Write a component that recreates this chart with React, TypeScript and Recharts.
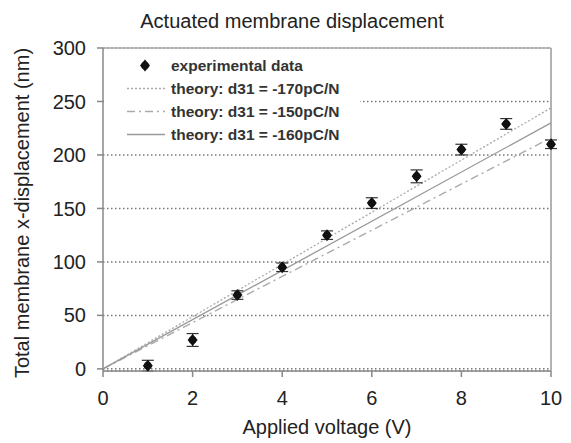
import {
  ComposedChart,
  Scatter,
  Line,
  XAxis,
  YAxis,
  CartesianGrid,
  ErrorBar,
  ReferenceLine,
  Legend,
  Label,
} from "recharts";

const VOLTAGE = [1, 2, 3, 4, 5, 6, 7, 8, 9, 10];
const DISPLACEMENT = [3, 27, 69, 95, 125, 155, 180, 205, 229, 210];
const ERROR = [5, 6, 4, 4, 4, 5, 6, 5, 5, 4];

const THEORY_VOLTAGE = [0, 10];
const THEORY_170 = [0, 244];
const THEORY_150 = [0, 216];
const THEORY_160 = [0, 230];

const X_TICKS = [0, 2, 4, 6, 8, 10];
const Y_TICKS = [0, 50, 100, 150, 200, 250, 300];

const FONT = "'Liberation Sans', Arial, sans-serif";

const experimental = VOLTAGE.map((v, i) => ({ x: v, y: DISPLACEMENT[i], err: ERROR[i] }));
const toLine = (ys: number[]) => THEORY_VOLTAGE.map((v, i) => ({ x: v, y: ys[i] }));

const LEGEND = [
  { label: "experimental data", marker: true, stroke: "#111", dash: "" },
  { label: "theory: d31 = -170pC/N", marker: false, stroke: "#aaa", dash: "2 2" },
  { label: "theory: d31 = -150pC/N", marker: false, stroke: "#aaa", dash: "8 4 2 4" },
  { label: "theory: d31 = -160pC/N", marker: false, stroke: "#999", dash: "" },
];

const Marker = ({ cx, cy }: { cx?: number; cy?: number }) => {
  if (cx == null || cy == null) return null;
  return (
    <g>
      <path d={`M${cx} ${cy - 6} L${cx + 5} ${cy} L${cx} ${cy + 6} L${cx - 5} ${cy} Z`} fill="#111" />
      <circle cx={cx} cy={cy} r={3.8} fill="#111" />
    </g>
  );
};

function LegendBox() {
  return (
    <div style={{ background: "#fff", padding: "4px 0 6px 0", fontFamily: FONT }}>
      {LEGEND.map((item) => (
        <div key={item.label} style={{ display: "flex", alignItems: "center", height: 23 }}>
          <svg width={67} height={23} style={{ display: "block" }}>
            {item.marker ? (
              <Marker cx={41} cy={11.5} />
            ) : (
              <line x1={23} x2={61} y1={11.5} y2={11.5} stroke={item.stroke} strokeWidth={1.3} strokeDasharray={item.dash} />
            )}
          </svg>
          <span style={{ fontSize: 15.5, fontWeight: "bold", color: "#333", whiteSpace: "nowrap" }}>{item.label}</span>
        </div>
      ))}
    </div>
  );
}

export default function App() {
  return (
    <div style={{ position: "absolute", left: 0, top: 0, width: 571, height: 443, background: "#fff", fontFamily: FONT }}>
      <div
        style={{
          position: "absolute",
          left: 0,
          top: 8,
          width: 584,
          textAlign: "center",
          fontSize: 20,
          lineHeight: "26px",
          color: "#222",
        }}
      >
        Actuated membrane displacement
      </div>
      <ComposedChart width={571} height={443} margin={{ top: 48, right: 20, bottom: 0, left: 0 }}>
        <CartesianGrid horizontal vertical={false} stroke="#777" strokeWidth={1.5} strokeDasharray="1.5 2.5" />
        <XAxis
          dataKey="x"
          type="number"
          domain={[0, 10]}
          ticks={X_TICKS}
          height={72}
          stroke="#888"
          strokeWidth={1.5}
          tickSize={6}
          tickMargin={14}
          tick={{ fontSize: 20, fill: "#222", fontFamily: FONT }}
        >
          <Label
            value="Applied voltage (V)"
            position="insideBottom"
            offset={9}
            style={{ fontSize: 20, fill: "#222", fontFamily: FONT }}
          />
        </XAxis>
        <YAxis
          dataKey="y"
          type="number"
          domain={[0, 300]}
          ticks={Y_TICKS}
          width={103}
          stroke="#888"
          strokeWidth={1.5}
          tickSize={6}
          tickMargin={11}
          tick={{ fontSize: 20, fill: "#222", fontFamily: FONT }}
        >
          <Label
            content={() => (
              <text
                x={22}
                y={213}
                transform="rotate(-90 22 213)"
                textAnchor="middle"
                dominantBaseline="central"
                style={{ fontSize: 20, fill: "#222", fontFamily: FONT }}
              >
                Total membrane x-displacement (nm)
              </text>
            )}
          />
        </YAxis>
        <ReferenceLine y={300} stroke="#aaa" strokeWidth={1.5} />
        <ReferenceLine x={10} stroke="#999" strokeWidth={1.5} />
        <Legend
          layout="vertical"
          align="center"
          verticalAlign="middle"
          wrapperStyle={{ left: 104, top: 50, width: 256 }}
          content={() => <LegendBox />}
        />
        <Line data={toLine(THEORY_170)} dataKey="y" stroke="#aaa" strokeWidth={1.3} strokeDasharray="2 2" dot={false} isAnimationActive={false} />
        <Line data={toLine(THEORY_150)} dataKey="y" stroke="#aaa" strokeWidth={1.3} strokeDasharray="8 4 2 4" dot={false} isAnimationActive={false} />
        <Line data={toLine(THEORY_160)} dataKey="y" stroke="#999" strokeWidth={1.3} dot={false} isAnimationActive={false} />
        <Scatter data={experimental} dataKey="y" shape={<Marker />} isAnimationActive={false}>
          <ErrorBar dataKey="err" direction="y" width={6} stroke="#333" strokeWidth={1.2} isAnimationActive={false} />
        </Scatter>
      </ComposedChart>
    </div>
  );
}
